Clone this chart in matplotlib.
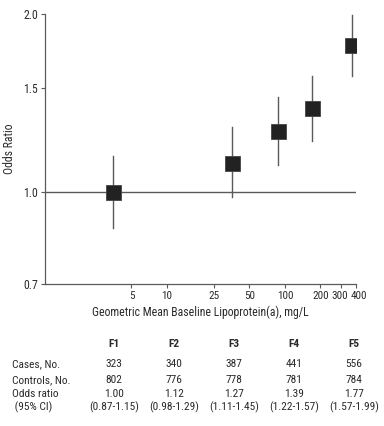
import matplotlib
matplotlib.use("Agg")
import matplotlib.pyplot as plt
import matplotlib.transforms as mtransforms
from matplotlib.ticker import FixedLocator, NullLocator

plt.rcParams["font.family"] = ["Roboto Condensed", "DejaVu Sans"]

# data
groups = ["F1", "F2", "F3", "F4", "F5"]
geo_mean = [3.5, 35.5, 87, 169, 370]
odds = [1.00, 1.12, 1.27, 1.39, 1.77]
ci_low = [0.87, 0.98, 1.11, 1.22, 1.57]
ci_high = [1.15, 1.29, 1.45, 1.57, 1.99]
cases = [323, 340, 387, 441, 556]
controls = [802, 776, 778, 781, 784]
x_ticks = [5, 10, 25, 50, 100, 200, 300, 400]
y_ticks = [0.7, 1.0, 1.5, 2.0]

txt = "#2a2a2a"
grey = "#5a5a5a"
fs = 8.5
fs_tab = 8.2

fig = plt.figure(figsize=(3.84, 4.26), dpi=100)
ax = fig.add_axes([45 / 384, 1 - 284 / 426, 311 / 384, 270 / 426])

ax.axhline(1.0, color=grey, lw=1.0, zorder=1)
for x, lo, hi in zip(geo_mean, ci_low, ci_high):
    ax.plot([x, x], [lo, hi], color=grey, lw=1.0, zorder=2)
ax.plot(geo_mean, odds, "s", ms=10.8, color="#222222", mec="#444444", mew=0.6, zorder=3)

ax.set_xscale("log")
ax.set_yscale("log")
ax.set_xlim(0.925, 400)
ax.set_ylim(0.7, 2.0)
ax.xaxis.set_major_locator(FixedLocator(x_ticks))
ax.xaxis.set_minor_locator(NullLocator())
ax.set_xticklabels([str(t) for t in x_ticks])
ax.yaxis.set_major_locator(FixedLocator(y_ticks))
ax.yaxis.set_minor_locator(NullLocator())
ax.set_yticklabels(["%.1f" % t for t in y_ticks])

for s in ["top", "right"]:
    ax.spines[s].set_visible(False)
for s in ["left", "bottom"]:
    ax.spines[s].set_color(grey)
    ax.spines[s].set_linewidth(0.9)
ax.tick_params(length=3, width=0.8, color=grey, labelcolor=txt, pad=2)
ax.tick_params(axis="x", labelsize=8)
ax.tick_params(axis="y", labelsize=fs)

# the 300 and 400 labels sit very close; nudge them apart a little
labels = ax.get_xticklabels()
for lab, dx in [(labels[-2], -2.0), (labels[-1], 2.5)]:
    lab.set_transform(lab.get_transform() + mtransforms.ScaledTranslation(dx / 100, 0, fig.dpi_scale_trans))

ax.set_xlabel("Geometric Mean Baseline Lipoprotein(a), mg/L", fontsize=fs, color=txt)
ax.xaxis.set_label_coords(0.5, -(312 - 284) / 270)
ax.set_ylabel("Odds Ratio", fontsize=fs, color=txt)
ax.yaxis.set_label_coords(-(45 - 10) / 311, 0.5)
ax.yaxis.label.set_va("center")
ax.xaxis.label.set_va("center")

# table under the plot
col_x = [114 + 60 * i for i in range(5)]
W, H = 384, 426
def put(x, y, s, **kw):
    fig.text(x / W, 1 - y / H, s, fontsize=fs_tab, color=txt, va="center", **kw)

for i, g in enumerate(groups):
    put(col_x[i], 344, g, ha="center", fontweight="bold")
    put(col_x[i], 364, str(cases[i]), ha="center")
    put(col_x[i], 380, str(controls[i]), ha="center")
    put(col_x[i], 394, "%.2f" % odds[i], ha="center")
    put(col_x[i], 407, "(%.2f-%.2f)" % (ci_low[i], ci_high[i]), ha="center")

put(12, 364, "Cases, No.", ha="left")
put(12, 380, "Controls, No.", ha="left")
put(12, 394, "Odds ratio", ha="left")
put(12, 407, " (95% CI)", ha="left")

fig.savefig("out.png", dpi=100)
